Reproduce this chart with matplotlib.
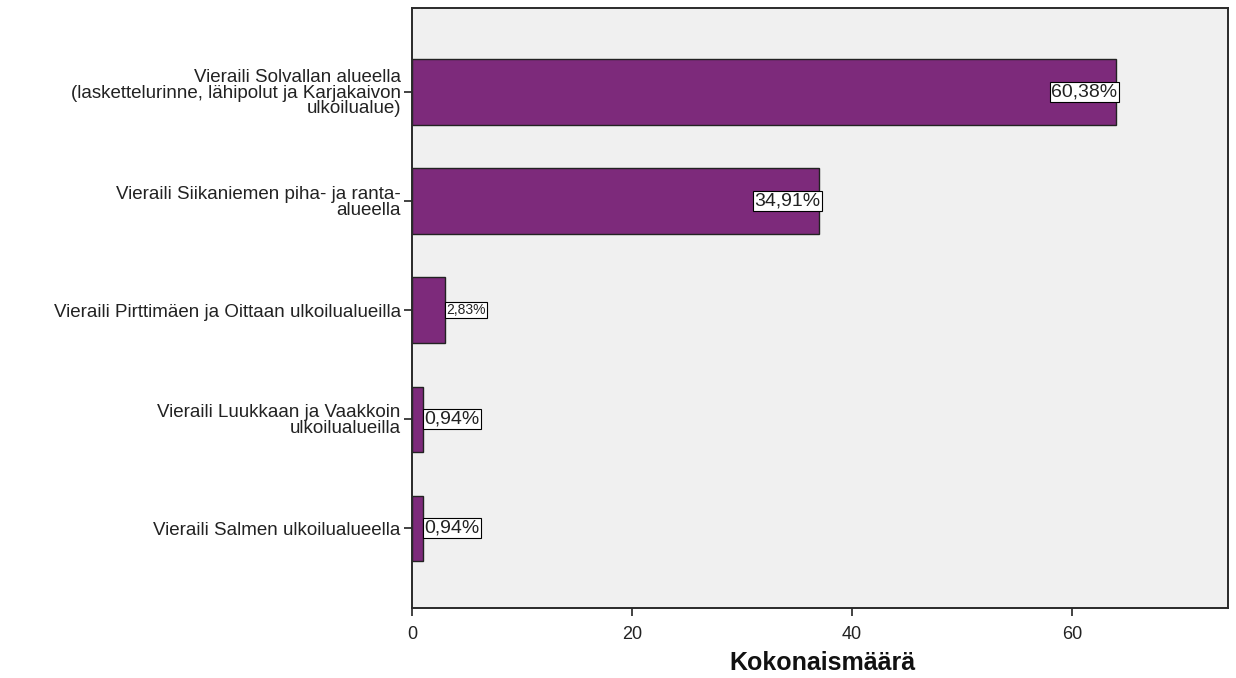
import matplotlib.pyplot as plt
import numpy as np

plt.rcParams['font.family'] = ['Liberation Sans', 'DejaVu Sans']

# data
categories = ["Vieraili Solvallan alueella\n(laskettelurinne, lähipolut ja Karjakaivon\nulkoilualue)",
              "Vieraili Siikaniemen piha- ja ranta-\nalueella",
              "Vieraili Pirttimäen ja Oittaan ulkoilualueilla",
              "Vieraili Luukkaan ja Vaakkoin\nulkoilualueilla",
              "Vieraili Salmen ulkoilualueella"]
counts = [64, 37, 3, 1, 1]
pct_labels = ["60,38%", "34,91%", "2,83%", "0,94%", "0,94%"]

fig = plt.figure(figsize=(12.36, 6.78), dpi=100)
ax = fig.add_axes([0.3333, 0.1032, 0.6602, 0.8850])
ax.set_facecolor('#f0f0f0')

y = np.arange(len(categories))
ax.barh(y, counts, height=0.6, color='#7d2a7b', edgecolor='#222222', linewidth=1.0, zorder=2)

ax.set_ylim(4.73, -0.77)
ax.set_xlim(0, 74.2)
ax.set_yticks(y)
ax.set_yticklabels(categories, fontsize=13.5, linespacing=0.88, color='#222222')
ax.set_xticks([0, 20, 40, 60])
ax.tick_params(axis='x', direction='out', length=6, width=1.2, labelsize=13, colors='#222222', pad=7)
ax.tick_params(axis='y', direction='out', length=6, width=1.2, colors='#222222', pad=2)
for s in ax.spines.values():
    s.set_linewidth(1.4)
    s.set_color('#2a2a2a')

# value labels in boxes
for i, (c, lab) in enumerate(zip(counts, pct_labels)):
    fs = 10 if c == 3 else 14
    if c > 10:
        ax.text(c + 0.15, i, lab, ha='right', va='center', fontsize=fs, zorder=3, color='#222222',
                bbox=dict(boxstyle='square,pad=0.08', facecolor='white', edgecolor='black', linewidth=0.8))
    else:
        ax.text(c + 0.15, i, lab, ha='left', va='center', fontsize=fs, zorder=3, color='#222222',
                bbox=dict(boxstyle='square,pad=0.08', facecolor='white', edgecolor='black', linewidth=0.8))

fig.text(0.665, 1 - 663 / 678, 'Kokonaismäärä', ha='center', va='center',
         fontsize=18, fontweight='bold', color='#111111')

fig.savefig('out.png', dpi=100)
